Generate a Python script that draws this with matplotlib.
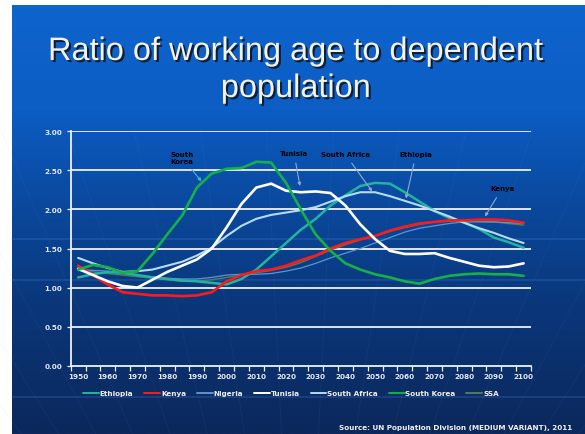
import numpy as np
import matplotlib
matplotlib.use("Agg")
import matplotlib.pyplot as plt
import matplotlib.patheffects as pe
from matplotlib.colors import LinearSegmentedColormap

# ---- data: ratio of working-age to dependent population, 5-year steps ----
years = list(range(1950, 2101, 5))

ethiopia = [1.13, 1.17, 1.20, 1.19, 1.16, 1.13, 1.11, 1.09, 1.08, 1.06, 1.04,
            1.11, 1.23, 1.40, 1.57, 1.74, 1.88, 2.05, 2.18, 2.30, 2.34, 2.33,
            2.22, 2.10, 1.98, 1.89, 1.83, 1.75, 1.64, 1.58, 1.51]
kenya = [1.28, 1.16, 1.04, 0.94, 0.92, 0.90, 0.90, 0.89, 0.90, 0.94, 1.08,
         1.16, 1.21, 1.23, 1.28, 1.35, 1.41, 1.50, 1.57, 1.62, 1.66, 1.73,
         1.78, 1.82, 1.84, 1.86, 1.86, 1.87, 1.87, 1.86, 1.83]
nigeria = [1.23, 1.22, 1.21, 1.18, 1.16, 1.14, 1.12, 1.11, 1.11, 1.13, 1.16,
           1.17, 1.17, 1.18, 1.21, 1.25, 1.31, 1.38, 1.44, 1.50, 1.57, 1.64,
           1.71, 1.76, 1.79, 1.82, 1.84, 1.84, 1.84, 1.83, 1.82]
tunisia = [1.24, 1.16, 1.08, 1.02, 1.00, 1.10, 1.20, 1.28, 1.36, 1.50, 1.77,
           2.07, 2.28, 2.33, 2.24, 2.22, 2.23, 2.21, 2.05, 1.81, 1.62, 1.47,
           1.43, 1.43, 1.44, 1.38, 1.33, 1.28, 1.26, 1.27, 1.31]
south_africa = [1.38, 1.31, 1.25, 1.20, 1.21, 1.23, 1.28, 1.33, 1.41, 1.51, 1.66,
                1.79, 1.88, 1.93, 1.96, 1.99, 2.03, 2.10, 2.17, 2.22, 2.22, 2.17,
                2.11, 2.05, 1.98, 1.91, 1.83, 1.76, 1.70, 1.63, 1.57]
south_korea = [1.23, 1.29, 1.26, 1.19, 1.21, 1.43, 1.68, 1.92, 2.28, 2.46, 2.52,
               2.53, 2.61, 2.60, 2.34, 2.00, 1.68, 1.47, 1.31, 1.23, 1.17, 1.13,
               1.08, 1.05, 1.11, 1.15, 1.17, 1.18, 1.17, 1.17, 1.15]
ssa = [1.22, 1.20, 1.18, 1.16, 1.14, 1.12, 1.10, 1.08, 1.08, 1.10, 1.13,
       1.16, 1.19, 1.22, 1.26, 1.32, 1.40, 1.48, 1.55, 1.61, 1.66, 1.72,
       1.77, 1.81, 1.84, 1.85, 1.85, 1.85, 1.84, 1.82, 1.80]

tick_years = list(range(1950, 2101, 10))
y_ticks = [0.0, 0.5, 1.0, 1.5, 2.0, 2.5, 3.0]

# name, values, colour, width, z-order
series = [
    ("Ethiopia", ethiopia, "#22b4a0", 1.8, 4),
    ("Kenya", kenya, "#ff1a1a", 1.9, 5),
    ("Nigeria", nigeria, "#5f93cf", 0.9, 3),
    ("Tunisia", tunisia, "#ffffff", 1.9, 6),
    ("South Africa", south_africa, "#b4dcf4", 1.5, 4),
    ("South Korea", south_korea, "#16b048", 1.9, 7),
    ("SSA", ssa, "#557a5a", 1.1, 2),
]

# (label, arrow tip (year, value), text centre (year, value), arrow colour)
callouts = [
    ("South\nKorea", (1991.5, 2.36), (1981.0, 2.67), "#3cb8d2"),
    ("Tunisia", (2024.7, 2.30), (2022.7, 2.72), "#8ea9cc"),
    ("South Africa", (2049.0, 2.23), (2039.9, 2.71), "#8ea9cc"),
    ("Ethiopia", (2060.4, 2.14), (2063.8, 2.71), "#8ea9cc"),
    ("Kenya", (2087.0, 1.91), (2092.8, 2.27), "#8ea9cc"),
]

W, H = 585, 435
fig = plt.figure(figsize=(W / 100, H / 100), dpi=100, facecolor="white")

# ---- slide background ----
bg = fig.add_axes([0, 0, 1, 1])
bg.set_xlim(0, W)
bg.set_ylim(H, 0)
bg.axis("off")
stops = [(0.0, (14, 100, 205)), (0.24, (12, 93, 196)), (0.45, (10, 74, 160)),
         (0.68, (10, 56, 124)), (1.0, (12, 40, 92))]
cmap = LinearSegmentedColormap.from_list(
    "slide", [(p, tuple(c / 255 for c in rgb)) for p, rgb in stops])
grad = np.linspace(0, 1, 300).reshape(-1, 1)
bg.imshow(grad, cmap=cmap, extent=(12, W, H, 6), aspect="auto", zorder=0)

# faint decorative rays (lower part of the slide) and bands
for x_end in np.linspace(-250, 850, 16):
    t = (820 - 130) / (820 - 60)
    x_top = 300 + (x_end - 300) * t
    bg.plot([300, x_top], [820, 130], color="#6fa8ff", lw=0.6, alpha=0.07, zorder=1)
for yb in (240, 281, 398):
    bg.plot([12, W], [yb, yb], color="#4f96f0", lw=1.2, alpha=0.22, zorder=1)

title_fx = [pe.withSimplePatchShadow(offset=(1.5, -1.5), shadow_rgbFace="#0c1a30", alpha=0.95)]
bg.text(296, 61, "Ratio of working age to dependent", ha="center", va="baseline",
        fontsize=23.4, family="Liberation Sans", color="#f4f2e4",
        path_effects=title_fx, zorder=3)
bg.text(296, 98, "population", ha="center", va="baseline",
        fontsize=23.4, family="Liberation Sans", color="#f4f2e4",
        path_effects=title_fx, zorder=3)

bg.text(572, 428, "Source: UN Population Division (MEDIUM VARIANT), 2011",
        ha="right", va="center", fontsize=5.2, fontweight="bold",
        family="DejaVu Sans", color="#f0f0f0", zorder=3)

# ---- chart ----
ax = fig.add_axes([70.7 / W, (H - 366.7) / H, (531 - 70.7) / W, (366.7 - 132.3) / H])
ax.set_facecolor("none")
ax.set_xlim(1947.5, 2102.5)
ax.set_ylim(0, 3)

for yv in y_ticks[1:]:
    ax.axhline(yv, color="#eef2f8", lw=1.3, zorder=1)

handles = []
for name, vals, col, lw, z in series:
    h, = ax.plot(years, vals, color=col, lw=lw, zorder=z, solid_capstyle="round",
                 label=name)
    handles.append(h)

for label, tip, txt, acol in callouts:
    ax.annotate(label, xy=tip, xytext=txt, ha="center" if "\n" not in label else "left",
                va="center", fontsize=5.0, fontweight="bold", color="#000000",
                family="DejaVu Sans", zorder=9,
                arrowprops=dict(arrowstyle="-|>,head_length=0.35,head_width=0.18",
                                color=acol, lw=0.8, shrinkA=3, shrinkB=0))

for side in ("top", "right"):
    ax.spines[side].set_visible(False)
for side in ("left", "bottom"):
    ax.spines[side].set_color("#f2f2f2")
    ax.spines[side].set_linewidth(1.3)

ax.set_yticks(y_ticks)
ax.set_yticklabels([f"{v:.2f}" for v in y_ticks])
ax.set_xticks(tick_years)
ax.set_xticklabels([str(y) for y in tick_years])
ax.set_xticks(np.arange(1947.5, 2103, 5), minor=True)
ax.tick_params(axis="x", which="major", length=0, pad=5)
ax.tick_params(axis="x", which="minor", length=3.5, width=0.9, color="#f2f2f2",
               direction="out")
ax.tick_params(axis="y", length=3, width=0.9, color="#f2f2f2", pad=3)
for lab in ax.get_xticklabels() + ax.get_yticklabels():
    lab.set_fontsize(5.2)
    lab.set_fontweight("bold")
    lab.set_color("#e6e9f0")
    lab.set_family("DejaVu Sans")

leg = fig.legend(handles=handles, loc="center", bbox_to_anchor=(291 / W, (H - 394) / H),
                 ncol=7, frameon=False, handlelength=2.2, handletextpad=0.1,
                 columnspacing=1.5,
                 prop={"family": "DejaVu Sans", "weight": "bold", "size": 5.2})
for t in leg.get_texts():
    t.set_color("#f0f0f0")
for ln in leg.get_lines():
    ln.set_linewidth(1.4)

fig.savefig("out.png", dpi=100, facecolor="white")
